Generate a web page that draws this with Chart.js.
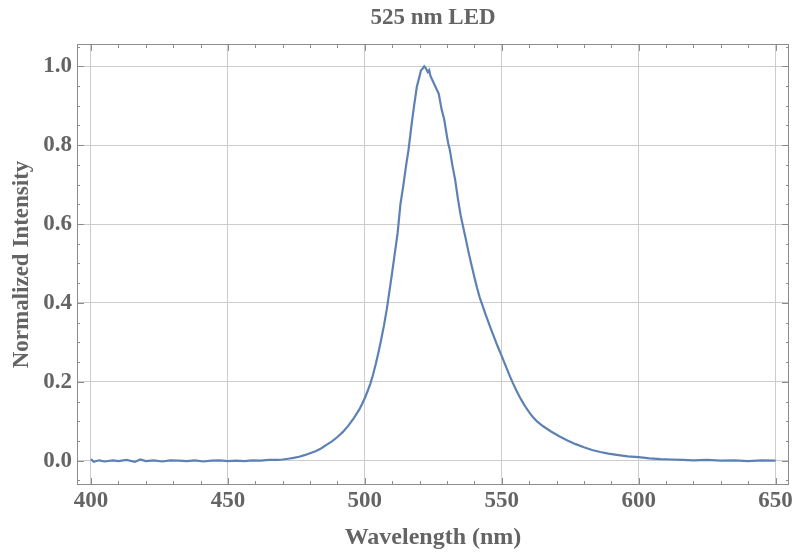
<!DOCTYPE html>
<html>
<head>
<meta charset="utf-8">
<script src="https://cdn.jsdelivr.net/npm/chart.js@4/dist/chart.umd.min.js"></script>
<style>
  html, body { margin: 0; padding: 0; background: #fff; }
  #wrap { width: 795px; height: 552px; }
</style>
</head>
<body>
<div id="wrap"><canvas id="myChart" width="795" height="552"></canvas></div>
<script>
// spectrum
var wavelength = [
  400, 401, 403, 405, 408, 410, 413, 416, 418, 420, 423, 426, 429, 432, 435, 438, 441, 444, 447, 450,
  453, 456, 459, 462, 465, 468, 470, 472, 474, 476, 478, 480, 482, 484, 486, 488, 490, 492, 494, 496,
  498, 499, 500, 501, 502, 503, 504, 505, 506, 507, 508, 509, 510, 511, 512, 513, 514, 515, 516, 517, 518,
  519, 520, 520.5, 521, 521.7, 522.3, 523, 523.5, 524, 525, 526, 527, 528, 529, 530, 530.5, 531, 532, 533, 534,
  535, 536, 537, 538, 539, 540, 541, 542, 543, 544, 545, 546, 547, 548, 549, 550, 551, 552, 553, 554,
  555, 556, 557, 558, 559, 560, 561, 562, 563, 565, 568, 571, 574, 577, 580, 583, 586, 589, 592, 596,
  600, 604, 608, 612, 616, 620, 625, 630, 635, 640, 645, 650
];
var intensity = [
  0.004, -0.003, 0.001, -0.002, 0.001, -0.001, 0.002, -0.003, 0.003, -0.001, 0.001, -0.002, 0.001, 0.000, -0.001, 0.001, -0.002, 0.000, 0.001, -0.001,
  0.000, -0.001, 0.001, 0.000, 0.002, 0.002, 0.003, 0.005, 0.007, 0.010, 0.014, 0.019, 0.024, 0.031, 0.040, 0.049, 0.060, 0.073, 0.089, 0.108,
  0.130, 0.144, 0.159, 0.176, 0.195, 0.218, 0.245, 0.275, 0.308, 0.343, 0.383, 0.430, 0.478, 0.528, 0.578, 0.650, 0.695, 0.745, 0.790, 0.848, 0.900,
  0.948, 0.975, 0.990, 0.993, 1.000, 0.995, 0.985, 0.990, 0.975, 0.960, 0.945, 0.930, 0.892, 0.865, 0.822, 0.803, 0.790, 0.748, 0.712, 0.664,
  0.622, 0.590, 0.558, 0.525, 0.495, 0.466, 0.438, 0.413, 0.393, 0.373, 0.354, 0.335, 0.317, 0.299, 0.282, 0.265, 0.248, 0.231, 0.214, 0.198,
  0.183, 0.169, 0.156, 0.144, 0.133, 0.123, 0.114, 0.106, 0.099, 0.088, 0.074, 0.062, 0.051, 0.042, 0.034, 0.027, 0.022, 0.018, 0.015, 0.011,
  0.009, 0.006, 0.004, 0.003, 0.002, 0.001, 0.002, 0.000, 0.001, -0.001, 0.001, 0.000
];
var xTicks = [400, 450, 500, 550, 600, 650];
var yTicks = [0.0, 0.2, 0.4, 0.6, 0.8, 1.0];

var points = [];
for (var i = 0; i < wavelength.length; i++) {
  points.push({x: wavelength[i], y: intensity[i]});
}

var textGray = "#646464";
var serif = "'Liberation Serif', 'DejaVu Serif', serif";

// frame + inward ticks, mathematica style
var frameTicks = {
  id: "frameTicks",
  afterDatasetsDraw: function(chart) {
    var ctx = chart.ctx;
    var a = chart.chartArea;
    var xs = chart.scales.x, ys = chart.scales.y;
    ctx.save();
    ctx.strokeStyle = "#8c8c8c";
    ctx.lineWidth = 1;
    ctx.strokeRect(a.left + 0.5, a.top + 0.5, a.right - a.left - 1, a.bottom - a.top - 1);
    ctx.beginPath();
    for (var w = 400; w <= 650; w += 10) {
      var px = Math.round(xs.getPixelForValue(w)) + 0.5;
      var len = (w % 50 === 0) ? 7 : 4;
      ctx.moveTo(px, a.bottom); ctx.lineTo(px, a.bottom - len);
      ctx.moveTo(px, a.top); ctx.lineTo(px, a.top + len);
    }
    for (var k = -1; k <= 21; k++) {
      var v = k * 0.05;
      if (v < ys.min || v > ys.max) continue;
      var py = Math.round(ys.getPixelForValue(v)) + 0.5;
      var l2 = (k % 4 === 0) ? 7 : 3;
      ctx.moveTo(a.left, py); ctx.lineTo(a.left + l2, py);
      ctx.moveTo(a.right, py); ctx.lineTo(a.right - l2, py);
    }
    ctx.stroke();
    ctx.restore();
  }
};

new Chart("myChart", {
  type: "line",
  data: {
    datasets: [
      {
        data: points,
        borderColor: "#5E81B5",
        borderWidth: 2.2,
        pointRadius: 0,
        fill: false,
        tension: 0,
      },
    ],
  },
  options: {
    responsive: false,
    animation: false,
    layout: { padding: { left: 0, right: 6, top: 0, bottom: 0 } },
    plugins: {
      legend: { display: false },
      tooltip: { enabled: false },
      title: {
        display: true,
        fullSize: false,
        text: "525 nm LED",
        color: textGray,
        font: { family: serif, size: 23, weight: "bold", lineHeight: 1.2 },
        padding: { top: 4, bottom: 12.4 },
      },
    },
    scales: {
      x: {
        type: "linear",
        min: 394.9,
        max: 654.9,
        afterFit: function(s) { s.height = 67; },
        afterBuildTicks: function(s) { s.ticks = xTicks.map(function(v) { return {value: v}; }); },
        ticks: { color: textGray, font: { family: serif, size: 23, weight: "bold" }, padding: 2, maxRotation: 0 },
        grid: { color: "#cccccc", drawTicks: false },
        border: { display: false },
        title: {
          display: true,
          text: "Wavelength (nm)",
          color: textGray,
          font: { family: serif, size: 24, weight: "bold" },
          padding: { top: 2, bottom: 0 },
        },
      },
      y: {
        type: "linear",
        min: -0.0616,
        max: 1.0565,
        afterFit: function(s) { s.width = 77; },
        afterBuildTicks: function(s) { s.ticks = yTicks.map(function(v) { return {value: v}; }); },
        ticks: {
          color: textGray,
          font: { family: serif, size: 23, weight: "bold" },
          padding: 5,
          callback: function(v) { return v.toFixed(1); },
        },
        grid: { color: "#cccccc", drawTicks: false },
        border: { display: false },
        title: {
          display: true,
          text: "Normalized Intensity",
          color: textGray,
          font: { family: serif, size: 23, weight: "bold" },
          padding: { top: 8, bottom: 0 },
        },
      },
    },
  },
  plugins: [frameTicks],
});
</script>
</body>
</html>
